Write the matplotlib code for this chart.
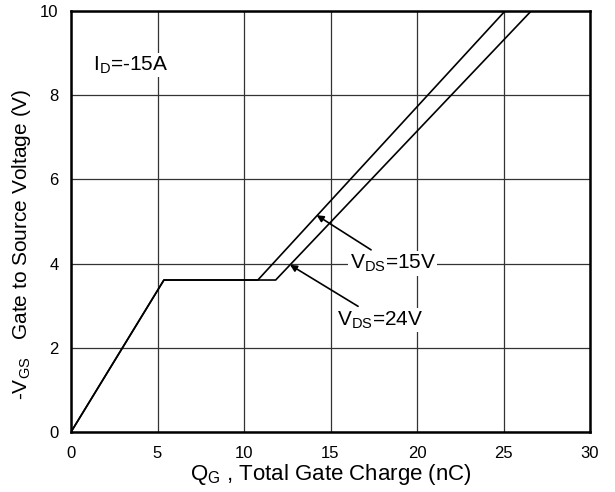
import matplotlib
matplotlib.use("Agg")
import matplotlib.pyplot as plt

# gate charge curves
qg_15v = [0, 5.37, 10.8, 25.09]
vgs_15v = [0, 3.61, 3.61, 10.0]
qg_24v = [0, 5.37, 11.83, 26.6]
vgs_24v = [0, 3.61, 3.61, 10.0]

x_ticks = [0, 5, 10, 15, 20, 25, 30]
y_ticks = [0, 2, 4, 6, 8, 10]

plt.rcParams['font.family'] = ['Liberation Sans', 'DejaVu Sans']

fig = plt.figure(figsize=(6.15, 4.92), dpi=100)
ax = fig.add_axes([71 / 615, 1 - 432 / 492, (590 - 71) / 615, (432 - 11) / 492])

ax.plot(qg_15v, vgs_15v, color="black", lw=1.2, zorder=3)
ax.plot(qg_24v, vgs_24v, color="black", lw=1.2, zorder=3)

ax.set_xlim(0, 30)
ax.set_ylim(0, 10)
ax.set_xticks(x_ticks)
ax.set_yticks(y_ticks)
ax.tick_params(length=0, labelsize=12, pad=10)
ax.tick_params(axis="y", pad=9)
ax.grid(True, color="#333333", lw=0.9)
ax.set_axisbelow(True)
for s in ax.spines.values():
    s.set_linewidth(1.8)

ax.set_xlabel(r"Q$_{\mathregular{G}}$ , Total Gate Charge (nC)", fontsize=16)
ax.xaxis.set_label_coords(0.5, -0.072)
ax.set_ylabel(r"-V$_{\mathregular{GS}}$   Gate to Source Voltage (V)", fontsize=15)
ax.yaxis.set_label_coords(-0.074, 0.445)

box = dict(facecolor="white", edgecolor="none", pad=1)
ax.text(1.27, 8.72, r"I$_{\mathregular{D}}$=-15A", fontsize=15, va="center", ha="left", bbox=box)

ax.annotate(r"V$_{\mathregular{DS}}$=15V", xy=(14.2, 5.15), xytext=(16.1, 4.0),
            fontsize=15, va="center", ha="left", bbox=box,
            arrowprops=dict(arrowstyle="-|>", color="black", lw=1.2,
                            mutation_scale=10, shrinkA=2, shrinkB=0))
ax.annotate(r"V$_{\mathregular{DS}}$=24V", xy=(12.66, 3.97), xytext=(15.4, 2.66),
            fontsize=15, va="center", ha="left", bbox=box,
            arrowprops=dict(arrowstyle="-|>", color="black", lw=1.2,
                            mutation_scale=10, shrinkA=2, shrinkB=0))

fig.savefig("out.png", dpi=100)
